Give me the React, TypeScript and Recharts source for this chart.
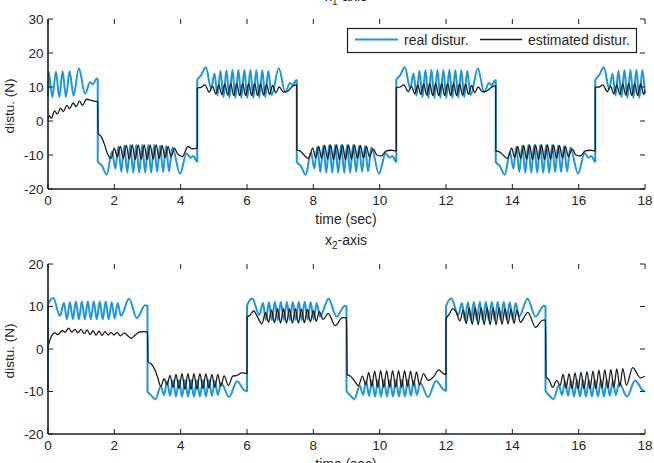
import React from 'react';
import { LineChart, Line, XAxis, YAxis } from 'recharts';

type Pt = [number, number];

// ---- axis ticks ----
const TIME_TICKS = [0, 2, 4, 6, 8, 10, 12, 14, 16, 18];
const TOP_Y_TICKS = [-20, -10, 0, 10, 20, 30];
const BOTTOM_Y_TICKS = [-20, -10, 0, 10, 20];

// ---- x1-axis: real disturbance (t [s], N) ----
const TOP_REAL: Pt[] = [
  [0, 7.5], [0.02, 14.5], [0.13, 7], [0.24, 14.5], [0.34, 7], [0.44, 14.6], [0.54, 7], [0.65, 14.6], [0.77, 7.5], [0.93, 15.5], [1.12, 8], [1.27, 11.5], [1.35, 10.8], [1.47, 12.5], [1.5, 12.2],
  [1.5, -12], [1.62, -13], [1.77, -15.8], [1.93, -9], [2.03, -14], [2.12, -7.5], [2.21, -15], [2.3, -7.2], [2.39, -15.2], [2.48, -7], [2.57, -15.2], [2.66, -7], [2.75, -15.2], [2.84, -7], [2.93, -15.2], [3.02, -7], [3.11, -15.2], [3.2, -7], [3.29, -15], [3.38, -7.2], [3.47, -15], [3.56, -7.3], [3.65, -14.8], [3.75, -7.8], [3.98, -15.5], [4.18, -9.5], [4.3, -10.8], [4.38, -10.3], [4.48, -11.8], [4.5, -12],
  [4.5, 12], [4.62, 13.5], [4.76, 15.8], [4.92, 9.5], [5.02, 14], [5.11, 7.5], [5.2, 14.8], [5.29, 7], [5.38, 15], [5.47, 6.8], [5.56, 15.1], [5.65, 6.8], [5.74, 15.1], [5.83, 6.8], [5.92, 15.1], [6.01, 6.8], [6.1, 15.1], [6.19, 6.8], [6.28, 15], [6.37, 6.9], [6.46, 15], [6.55, 7], [6.64, 14.8], [6.74, 7.6], [6.96, 15.5], [7.15, 8.5], [7.3, 11.2], [7.38, 10.5], [7.48, 12], [7.5, 12],
  [7.5, -12], [7.62, -13.2], [7.77, -15.8], [7.93, -9.2], [8.03, -14], [8.12, -7.6], [8.21, -15], [8.3, -7.2], [8.39, -15.2], [8.48, -7], [8.57, -15.2], [8.66, -7], [8.75, -15.2], [8.84, -7], [8.93, -15.2], [9.02, -7], [9.11, -15.2], [9.2, -7], [9.29, -15], [9.38, -7.2], [9.47, -15], [9.56, -7.3], [9.65, -14.8], [9.75, -7.8], [9.98, -15.5], [10.18, -9.5], [10.3, -10.8], [10.38, -10.3], [10.48, -11.8], [10.5, -12],
  [10.5, 12], [10.62, 13.5], [10.76, 15.8], [10.92, 9.6], [11.02, 14], [11.11, 7.5], [11.2, 14.8], [11.29, 7], [11.38, 15], [11.47, 6.8], [11.56, 15.1], [11.65, 6.8], [11.74, 15.1], [11.83, 6.8], [11.92, 15.1], [12.01, 6.8], [12.1, 15.1], [12.19, 6.8], [12.28, 15], [12.37, 6.9], [12.46, 15], [12.55, 7], [12.64, 14.8], [12.74, 7.6], [12.96, 15.5], [13.15, 8.5], [13.3, 11.2], [13.38, 10.5], [13.48, 12], [13.5, 12],
  [13.5, -12], [13.62, -13.2], [13.77, -15.8], [13.93, -9.2], [14.03, -14], [14.12, -7.6], [14.21, -15], [14.3, -7.2], [14.39, -15.2], [14.48, -7], [14.57, -15.2], [14.66, -7], [14.75, -15.2], [14.84, -7], [14.93, -15.2], [15.02, -7], [15.11, -15.2], [15.2, -7], [15.29, -15], [15.38, -7.2], [15.47, -15], [15.56, -7.3], [15.65, -14.8], [15.75, -7.8], [15.98, -15.5], [16.18, -9.5], [16.3, -10.8], [16.38, -10.3], [16.48, -11.8], [16.5, -12],
  [16.5, 12], [16.62, 13.5], [16.76, 15.8], [16.92, 9.5], [17.02, 14], [17.11, 7.5], [17.2, 14.8], [17.29, 7], [17.38, 15], [17.47, 6.8], [17.56, 15.1], [17.65, 6.8], [17.74, 15.1], [17.83, 6.8], [17.92, 15], [18, 8],
];

// ---- x1-axis: estimated disturbance ----
const TOP_EST: Pt[] = [
  [0, 0.5], [0.04, 1.6], [0.1, 0.8], [0.2, 3], [0.28, 2], [0.38, 3.8], [0.46, 2.8], [0.57, 4.6], [0.65, 3.6], [0.76, 5.3], [0.85, 4.2], [0.95, 5.9], [1.04, 4.6], [1.16, 6.4], [1.3, 6.1], [1.42, 5.8], [1.5, 5.6],
  [1.51, -3.5], [1.6, -4.5], [1.7, -6.8], [1.8, -9.8], [1.9, -11], [2.0, -8], [2.09, -10.6], [2.18, -7.4], [2.27, -11], [2.36, -7.1], [2.45, -11.2], [2.54, -7], [2.63, -11.3], [2.72, -7], [2.81, -11.3], [2.9, -7], [2.99, -11.3], [3.08, -7], [3.17, -11.2], [3.26, -7], [3.35, -11], [3.44, -7.2], [3.53, -10.8], [3.62, -7.5], [3.71, -10.5], [3.81, -8], [3.9, -9.5], [4.05, -10.5], [4.22, -7.5], [4.35, -8.2], [4.5, -8],
  [4.5, 9.7], [4.62, 9.9], [4.73, 10.6], [4.86, 8.5], [4.96, 10.2], [5.06, 8], [5.15, 10.6], [5.24, 7.8], [5.33, 10.9], [5.42, 7.6], [5.51, 11], [5.6, 7.5], [5.69, 11], [5.78, 7.5], [5.87, 11], [5.96, 7.5], [6.05, 11], [6.14, 7.5], [6.23, 11], [6.32, 7.5], [6.41, 10.9], [6.5, 7.6], [6.59, 10.8], [6.68, 7.8], [6.77, 10.5], [6.87, 8.3], [6.97, 10], [7.1, 8.5], [7.22, 8.7], [7.35, 10], [7.42, 10.5], [7.5, 10.6],
  [7.5, -8.5], [7.6, -8.8], [7.72, -10], [7.85, -11], [7.98, -8], [8.07, -10.8], [8.16, -7.5], [8.25, -11], [8.34, -7.2], [8.43, -11.2], [8.52, -7], [8.61, -11.3], [8.7, -7], [8.79, -11.3], [8.88, -7], [8.97, -11.3], [9.06, -7], [9.15, -11.2], [9.24, -7], [9.33, -11], [9.42, -7.2], [9.51, -10.8], [9.6, -7.5], [9.69, -10.5], [9.8, -8.2], [9.92, -10], [10.05, -10.3], [10.2, -8.8], [10.35, -8.6], [10.5, -8.8],
  [10.5, 9.8], [10.62, 10], [10.73, 10.6], [10.86, 8.6], [10.96, 10.2], [11.06, 8], [11.15, 10.6], [11.24, 7.8], [11.33, 10.9], [11.42, 7.6], [11.51, 11], [11.6, 7.5], [11.69, 11], [11.78, 7.5], [11.87, 11], [11.96, 7.5], [12.05, 11], [12.14, 7.5], [12.23, 11], [12.32, 7.5], [12.41, 10.9], [12.5, 7.6], [12.59, 10.8], [12.68, 7.8], [12.77, 10.5], [12.87, 8.3], [12.97, 10], [13.1, 8.6], [13.22, 8.8], [13.35, 9.8], [13.42, 10.2], [13.5, 10.4],
  [13.5, -8.8], [13.6, -9], [13.72, -10], [13.85, -11], [13.98, -8], [14.07, -10.8], [14.16, -7.5], [14.25, -11], [14.34, -7.2], [14.43, -11.2], [14.52, -7], [14.61, -11.3], [14.7, -7], [14.79, -11.3], [14.88, -7], [14.97, -11.3], [15.06, -7], [15.15, -11.2], [15.24, -7], [15.33, -11], [15.42, -7.2], [15.51, -10.8], [15.6, -7.5], [15.69, -10.5], [15.8, -8.2], [15.92, -10], [16.05, -10.3], [16.2, -8.8], [16.35, -8.6], [16.5, -8.8],
  [16.5, 9.9], [16.62, 10], [16.73, 10.6], [16.86, 8.6], [16.96, 10.2], [17.06, 8], [17.15, 10.6], [17.24, 7.8], [17.33, 10.9], [17.42, 7.6], [17.51, 11], [17.6, 7.5], [17.69, 11], [17.78, 7.5], [17.87, 11], [17.96, 7.8], [18, 9],
];

// ---- x2-axis: real disturbance ----
const BOTTOM_REAL: Pt[] = [
  [0, -10], [0, 10.5], [0.16, 12], [0.36, 7.8], [0.48, 10.8], [0.57, 7], [0.66, 11], [0.75, 7], [0.84, 11.2], [0.93, 7], [1.02, 11.2], [1.11, 7], [1.2, 11.2], [1.29, 7], [1.38, 11.2], [1.47, 7], [1.56, 11.2], [1.65, 7], [1.74, 11.2], [1.83, 7], [1.92, 11], [2.01, 7.2], [2.1, 10.8], [2.2, 7.8], [2.44, 11.8], [2.68, 7.3], [2.93, 10.3], [3, 10.2],
  [3, -10], [3.1, -10.8], [3.24, -11.8], [3.4, -8.8], [3.5, -10.8], [3.59, -7.6], [3.68, -11], [3.77, -7.4], [3.86, -11.2], [3.95, -7.3], [4.04, -11.2], [4.13, -7.3], [4.22, -11.2], [4.31, -7.3], [4.4, -11.2], [4.49, -7.3], [4.58, -11.2], [4.67, -7.3], [4.76, -11.2], [4.85, -7.3], [4.94, -11], [5.03, -7.5], [5.12, -10.8], [5.22, -8], [5.46, -11.3], [5.7, -7.6], [5.93, -9.8], [6, -9.9],
  [6, 10.2], [6.16, 11.9], [6.37, 8], [6.48, 10.8], [6.57, 6.8], [6.66, 11], [6.75, 6.8], [6.84, 11.1], [6.93, 6.8], [7.02, 11.1], [7.11, 6.8], [7.2, 11.1], [7.29, 6.8], [7.38, 11.1], [7.47, 6.8], [7.56, 11.1], [7.65, 6.8], [7.74, 11.1], [7.83, 6.9], [7.92, 11], [8.01, 7], [8.1, 10.8], [8.2, 7.6], [8.46, 11.8], [8.7, 7.6], [8.95, 10.2], [9, 10],
  [9, -9.8], [9.1, -10.8], [9.24, -11.8], [9.4, -8.6], [9.5, -10.8], [9.59, -7.6], [9.68, -11], [9.77, -7.4], [9.86, -11.2], [9.95, -7.3], [10.04, -11.2], [10.13, -7.3], [10.22, -11.2], [10.31, -7.3], [10.4, -11.2], [10.49, -7.3], [10.58, -11.2], [10.67, -7.3], [10.76, -11.2], [10.85, -7.3], [10.94, -11], [11.03, -7.5], [11.12, -10.8], [11.22, -8], [11.46, -11.3], [11.7, -7.5], [11.93, -9.6], [12, -9.8],
  [12, 10], [12.16, 11.9], [12.37, 8], [12.48, 10.8], [12.57, 6.8], [12.66, 11], [12.75, 6.8], [12.84, 11.1], [12.93, 6.8], [13.02, 11.1], [13.11, 6.8], [13.2, 11.1], [13.29, 6.8], [13.38, 11.1], [13.47, 6.8], [13.56, 11.1], [13.65, 6.8], [13.74, 11.1], [13.83, 6.9], [13.92, 11], [14.01, 7], [14.1, 10.8], [14.2, 7.6], [14.46, 11.8], [14.7, 7.6], [14.95, 10.2], [15, 10],
  [15, -9.8], [15.1, -10.8], [15.24, -11.8], [15.4, -8.6], [15.5, -10.8], [15.59, -7.6], [15.68, -11], [15.77, -7.4], [15.86, -11.2], [15.95, -7.3], [16.04, -11.2], [16.13, -7.3], [16.22, -11.2], [16.31, -7.3], [16.4, -11.2], [16.49, -7.3], [16.58, -11.2], [16.67, -7.3], [16.76, -11.2], [16.85, -7.3], [16.94, -11], [17.03, -7.5], [17.12, -10.8], [17.22, -8], [17.46, -11.2], [17.7, -7.4], [17.94, -9.8], [18, -10],
];

// ---- x2-axis: estimated disturbance ----
const BOTTOM_EST: Pt[] = [
  [0, 0.5], [0.08, 2.6], [0.2, 3.8], [0.3, 3.4], [0.42, 4.3], [0.52, 4], [0.62, 4.9], [0.72, 4], [0.81, 4.6], [0.9, 3.8], [1.0, 4.6], [1.09, 3.6], [1.18, 4.5], [1.27, 3.4], [1.36, 4.3], [1.45, 3.3], [1.54, 4.2], [1.63, 3.2], [1.72, 4.1], [1.81, 3.3], [1.9, 3.9], [1.99, 3.3], [2.08, 3.9], [2.18, 3.1], [2.3, 3.8], [2.42, 3], [2.52, 2.5], [2.63, 3.3], [2.76, 4], [2.9, 4.1], [3, 4],
  [3.02, -3], [3.12, -3.6], [3.22, -4.8], [3.3, -6.5], [3.4, -8.8], [3.5, -7], [3.59, -8.4], [3.68, -6.2], [3.77, -9], [3.86, -6], [3.95, -9.3], [4.04, -5.8], [4.13, -9.5], [4.22, -5.8], [4.31, -9.5], [4.4, -5.8], [4.49, -9.5], [4.58, -5.8], [4.67, -9.3], [4.76, -5.8], [4.85, -9.2], [4.94, -6], [5.03, -9], [5.12, -6], [5.21, -8.8], [5.31, -6.3], [5.44, -8.6], [5.57, -6.4], [5.7, -6.2], [5.84, -5.6], [6, -5.8],
  [6, 7.5], [6.1, 8], [6.2, 9], [6.32, 7.5], [6.45, 5.9], [6.56, 8.6], [6.65, 6.3], [6.74, 9.2], [6.83, 6.2], [6.92, 9.5], [7.01, 6.1], [7.1, 9.5], [7.19, 6.1], [7.28, 9.5], [7.37, 6.1], [7.46, 9.5], [7.55, 6.1], [7.64, 9.4], [7.73, 6.2], [7.82, 9.3], [7.91, 6.4], [8.0, 9], [8.09, 6.5], [8.18, 8.8], [8.3, 7], [8.45, 8.4], [8.66, 5.5], [8.88, 7.4], [9, 7.3],
  [9.02, -6], [9.12, -6.4], [9.24, -7.5], [9.36, -8.6], [9.48, -6.4], [9.58, -8.4], [9.67, -5.5], [9.76, -8.8], [9.85, -5.2], [9.94, -9], [10.03, -5.1], [10.12, -9], [10.21, -5.1], [10.3, -9], [10.39, -5.1], [10.48, -9], [10.57, -5.1], [10.66, -9], [10.75, -5.1], [10.84, -8.8], [10.93, -5.2], [11.02, -8.6], [11.11, -5.4], [11.2, -8.4], [11.32, -5.8], [11.46, -7.4], [11.62, -6.6], [11.78, -4.9], [11.92, -5.8], [12, -6],
  [12, 7], [12.1, 8.2], [12.2, 9.5], [12.3, 8.8], [12.42, 6.6], [12.52, 9.2], [12.61, 6], [12.7, 9.6], [12.79, 5.8], [12.88, 9.7], [12.97, 5.7], [13.06, 9.7], [13.15, 5.7], [13.24, 9.7], [13.33, 5.7], [13.42, 9.7], [13.51, 5.7], [13.6, 9.6], [13.69, 5.8], [13.78, 9.5], [13.87, 5.9], [13.96, 9.4], [14.05, 6], [14.14, 9.2], [14.24, 6.3], [14.47, 8.6], [14.7, 5.1], [14.92, 6.8], [15, 6.8],
  [15.02, -6.6], [15.1, -7.2], [15.22, -9], [15.34, -7.4], [15.44, -8.6], [15.53, -6], [15.62, -9.2], [15.71, -5.8], [15.8, -9.3], [15.89, -5.6], [15.98, -9.4], [16.07, -5.5], [16.16, -9.4], [16.25, -5.3], [16.34, -9.4], [16.43, -5.2], [16.52, -9.3], [16.61, -5], [16.7, -9.2], [16.79, -4.9], [16.88, -9.2], [16.97, -4.8], [17.06, -9], [17.15, -4.7], [17.24, -8.8], [17.33, -4.6], [17.44, -8.5], [17.63, -4.4], [17.86, -6.8], [18, -6.4],
];

// ---- styling / layout ----
const FONT = "'Liberation Sans', Arial, Helvetica, sans-serif";
const INK = '#262626';
const AXIS = '#1f1f1f';
const BLUE = '#2196d6';
const BLACK = '#1c1c1c';
const SERIES = [
  { key: 'real', name: 'real distur.', color: BLUE, width: 2 },
  { key: 'est', name: 'estimated distur.', color: BLACK, width: 1.3 },
];
const W = 654;
const H = 463;
const PLOT_LEFT = 48;
const PLOT_RIGHT = 645;
const TICK_LEN = 5;

const toRows = (pts: Pt[]) => pts.map(([t, v]) => ({ t, v }));

interface PanelProps {
  real: Pt[];
  est: Pt[];
  yTicks: number[];
  chartTop: number;
  chartHeight: number;
  plotTop: number; // local to the chart
  plotBottom: number; // local to the chart
}

function Panel({ real, est, yTicks, chartTop, chartHeight, plotTop, plotBottom }: PanelProps) {
  const xTick = (props: any) => {
    const { x, payload } = props;
    return (
      <g>
        <line x1={x} x2={x} y1={plotBottom} y2={plotBottom - TICK_LEN} stroke={AXIS} strokeWidth={1} />
        <line x1={x} x2={x} y1={plotTop} y2={plotTop + TICK_LEN} stroke={AXIS} strokeWidth={1} />
        <text x={x} y={plotBottom + 16.3} textAnchor="middle" fontSize={13.5} fontFamily={FONT} fill={INK}>
          {payload.value}
        </text>
      </g>
    );
  };
  const yTick = (props: any) => {
    const { y, payload } = props;
    return (
      <g>
        <line x1={PLOT_LEFT} x2={PLOT_LEFT + TICK_LEN} y1={y} y2={y} stroke={AXIS} strokeWidth={1} />
        <line x1={PLOT_RIGHT} x2={PLOT_RIGHT - TICK_LEN} y1={y} y2={y} stroke={AXIS} strokeWidth={1} />
        <text x={43.5} y={y + 4.8} textAnchor="end" fontSize={13.5} fontFamily={FONT} fill={INK}>
          {payload.value}
        </text>
      </g>
    );
  };
  const yDomain: [number, number] = [yTicks[0], yTicks[yTicks.length - 1]];
  const rows = { real: toRows(real), est: toRows(est) };
  return (
    <div style={{ position: 'absolute', left: 0, top: chartTop, width: W, height: chartHeight }}>
      <LineChart
        width={W}
        height={chartHeight}
        margin={{ top: plotTop, right: W - PLOT_RIGHT, bottom: 0, left: 0 }}
      >
        <XAxis
          dataKey="t"
          type="number"
          domain={[0, 18]}
          ticks={TIME_TICKS}
          interval={0}
          height={chartHeight - plotBottom}
          tickLine={false}
          axisLine={{ stroke: AXIS, strokeWidth: 1.6 }}
          tick={xTick}
        />
        <XAxis
          xAxisId="top"
          orientation="top"
          dataKey="t"
          type="number"
          domain={[0, 18]}
          height={0}
          tick={false}
          tickLine={false}
          axisLine={{ stroke: AXIS, strokeWidth: 1.6 }}
        />
        <YAxis
          type="number"
          domain={yDomain}
          ticks={yTicks}
          interval={0}
          width={PLOT_LEFT}
          tickLine={false}
          axisLine={{ stroke: AXIS, strokeWidth: 1.6 }}
          tick={yTick}
        />
        <YAxis
          yAxisId="right"
          orientation="right"
          type="number"
          domain={yDomain}
          width={0}
          tick={false}
          tickLine={false}
          axisLine={{ stroke: AXIS, strokeWidth: 1.6 }}
        />
        {SERIES.map((s) => (
          <Line
            key={s.key}
            data={rows[s.key as 'real' | 'est']}
            dataKey="v"
            name={s.name}
            type="monotone"
            stroke={s.color}
            strokeWidth={s.width}
            strokeLinejoin="round"
            dot={false}
            activeDot={false}
            isAnimationActive={false}
          />
        ))}
      </LineChart>
    </div>
  );
}

function Overlay() {
  const textStyle = { fontFamily: FONT, fill: INK } as const;
  return (
    <svg width={W} height={H} style={{ position: 'absolute', left: 0, top: 0, pointerEvents: 'none' }}>
      {/* panel titles */}
      <text x={346} y={1} textAnchor="middle" fontSize={14} {...textStyle}>
        x<tspan fontSize={10} dy={4}>1</tspan>
        <tspan dy={-4}>-axis</tspan>
      </text>
      <text x={346} y={245} textAnchor="middle" fontSize={14} {...textStyle}>
        x<tspan fontSize={10} dy={4}>2</tspan>
        <tspan dy={-4}>-axis</tspan>
      </text>
      {/* axis titles */}
      <text x={346} y={223.5} textAnchor="middle" fontSize={14} {...textStyle}>time (sec)</text>
      <text x={346} y={468.5} textAnchor="middle" fontSize={14} {...textStyle}>time (sec)</text>
      <text transform="translate(13.5,106) rotate(-90)" textAnchor="middle" fontSize={13.5} {...textStyle}>distu. (N)</text>
      <text transform="translate(13.5,351) rotate(-90)" textAnchor="middle" fontSize={13.5} {...textStyle}>distu. (N)</text>
      {/* legend */}
      <rect x={347.5} y={28.5} width={289} height={24} fill="#fff" stroke={AXIS} strokeWidth={1.2} />
      <line x1={355} x2={398} y1={39.5} y2={39.5} stroke={SERIES[0].color} strokeWidth={SERIES[0].width} />
      <text x={404} y={45} fontSize={14} {...textStyle}>{SERIES[0].name}</text>
      <line x1={480} x2={522} y1={39.5} y2={39.5} stroke={SERIES[1].color} strokeWidth={SERIES[1].width} />
      <text x={528} y={45} fontSize={14} {...textStyle}>{SERIES[1].name}</text>
    </svg>
  );
}

export default function App() {
  return (
    <div style={{ position: 'absolute', left: 0, top: 0, width: W, height: H, overflow: 'hidden', background: '#fff' }}>
      <Panel real={TOP_REAL} est={TOP_EST} yTicks={TOP_Y_TICKS} chartTop={0} chartHeight={232} plotTop={19} plotBottom={189} />
      <Panel real={BOTTOM_REAL} est={BOTTOM_EST} yTicks={BOTTOM_Y_TICKS} chartTop={232} chartHeight={231} plotTop={32} plotBottom={202} />
      <Overlay />
    </div>
  );
}
